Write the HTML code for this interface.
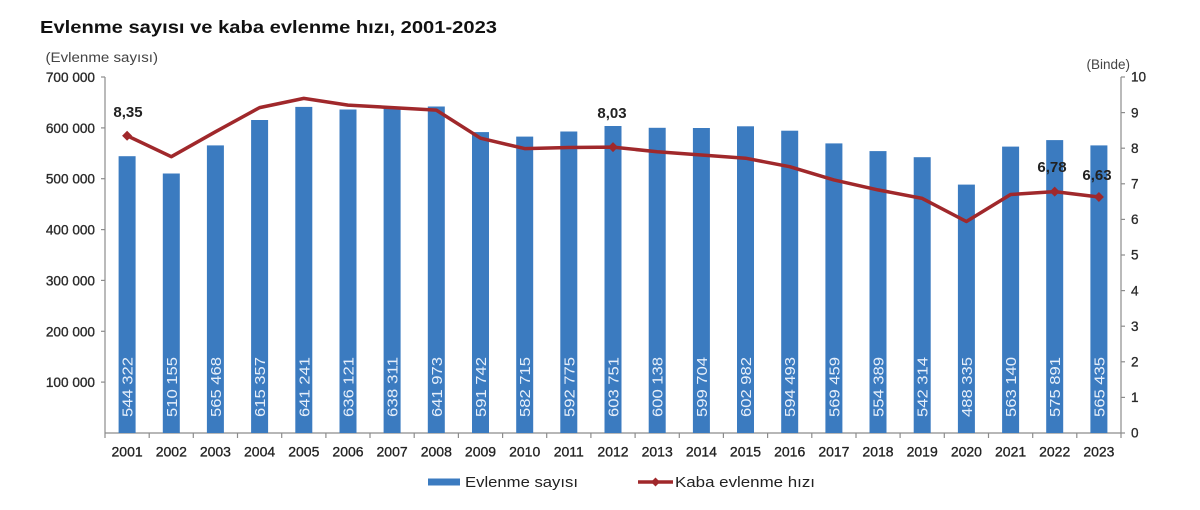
<!DOCTYPE html>
<html><head><meta charset="utf-8"><style>
html,body{margin:0;padding:0;background:#fff;}
svg{display:block;font-family:"Liberation Sans",Arial,sans-serif;}
</style></head><body>
<svg width="1200" height="510" viewBox="0 0 1200 510" xmlns="http://www.w3.org/2000/svg">
<rect width="1200" height="510" fill="#fff"/>
<text x="40" y="33" font-size="17.5" font-weight="bold" fill="#111" textLength="457" lengthAdjust="spacingAndGlyphs">Evlenme sayısı ve kaba evlenme hızı, 2001-2023</text>
<text x="45.5" y="62" font-size="13.5" fill="#444" textLength="112.5" lengthAdjust="spacingAndGlyphs">(Evlenme sayısı)</text>
<text x="1130" y="69" font-size="13.5" fill="#444" text-anchor="end">(Binde)</text>

<g stroke="#8c8c8c" stroke-width="1.2" fill="none">
<line x1="105" y1="77" x2="105" y2="433"/>
<line x1="101" y1="77" x2="105" y2="77"/>
<line x1="101" y1="127.9" x2="105" y2="127.9"/>
<line x1="101" y1="178.7" x2="105" y2="178.7"/>
<line x1="101" y1="229.6" x2="105" y2="229.6"/>
<line x1="101" y1="280.4" x2="105" y2="280.4"/>
<line x1="101" y1="331.3" x2="105" y2="331.3"/>
<line x1="101" y1="382.1" x2="105" y2="382.1"/>
<line x1="1121" y1="77" x2="1121" y2="433"/>
<line x1="1121" y1="77" x2="1125" y2="77"/>
<line x1="1121" y1="112.6" x2="1125" y2="112.6"/>
<line x1="1121" y1="148.2" x2="1125" y2="148.2"/>
<line x1="1121" y1="183.8" x2="1125" y2="183.8"/>
<line x1="1121" y1="219.4" x2="1125" y2="219.4"/>
<line x1="1121" y1="255" x2="1125" y2="255"/>
<line x1="1121" y1="290.6" x2="1125" y2="290.6"/>
<line x1="1121" y1="326.2" x2="1125" y2="326.2"/>
<line x1="1121" y1="361.8" x2="1125" y2="361.8"/>
<line x1="1121" y1="397.4" x2="1125" y2="397.4"/>
<line x1="1121" y1="433" x2="1125" y2="433"/>
<line x1="105" y1="433" x2="1121" y2="433"/>
</g>
<g stroke="#8c8c8c" stroke-width="1.2">
<line x1="105" y1="433" x2="105" y2="438"/><line x1="149.2" y1="433" x2="149.2" y2="438"/><line x1="193.3" y1="433" x2="193.3" y2="438"/><line x1="237.5" y1="433" x2="237.5" y2="438"/><line x1="281.7" y1="433" x2="281.7" y2="438"/><line x1="325.9" y1="433" x2="325.9" y2="438"/><line x1="370" y1="433" x2="370" y2="438"/><line x1="414.2" y1="433" x2="414.2" y2="438"/><line x1="458.4" y1="433" x2="458.4" y2="438"/><line x1="502.6" y1="433" x2="502.6" y2="438"/><line x1="546.7" y1="433" x2="546.7" y2="438"/><line x1="590.9" y1="433" x2="590.9" y2="438"/><line x1="635.1" y1="433" x2="635.1" y2="438"/><line x1="679.3" y1="433" x2="679.3" y2="438"/><line x1="723.4" y1="433" x2="723.4" y2="438"/><line x1="767.6" y1="433" x2="767.6" y2="438"/><line x1="811.8" y1="433" x2="811.8" y2="438"/><line x1="856" y1="433" x2="856" y2="438"/><line x1="900.1" y1="433" x2="900.1" y2="438"/><line x1="944.3" y1="433" x2="944.3" y2="438"/><line x1="988.5" y1="433" x2="988.5" y2="438"/><line x1="1032.7" y1="433" x2="1032.7" y2="438"/><line x1="1076.8" y1="433" x2="1076.8" y2="438"/><line x1="1121" y1="433" x2="1121" y2="438"/>
</g>

<g font-size="13.6" fill="#2a2a2a" stroke="#2a2a2a" stroke-width="0.35" text-anchor="end">
<text x="95" y="82">700 000</text>
<text x="95" y="132.9">600 000</text>
<text x="95" y="183.7">500 000</text>
<text x="95" y="234.6">400 000</text>
<text x="95" y="285.4">300 000</text>
<text x="95" y="336.3">200 000</text>
<text x="95" y="387.1">100 000</text>
</g>
<g font-size="13.6" fill="#2a2a2a" stroke="#2a2a2a" stroke-width="0.3">
<text x="1131" y="81.7">10</text>
<text x="1131" y="117.3">9</text>
<text x="1131" y="152.9">8</text>
<text x="1131" y="188.5">7</text>
<text x="1131" y="224.1">6</text>
<text x="1131" y="259.7">5</text>
<text x="1131" y="295.3">4</text>
<text x="1131" y="330.9">3</text>
<text x="1131" y="366.5">2</text>
<text x="1131" y="402.1">1</text>
<text x="1131" y="437.7">0</text>
</g>

<g fill="#3b7bc0">
<rect x="118.6" y="156.2" width="17" height="276.8"/>
<rect x="162.8" y="173.5" width="17" height="259.5"/>
<rect x="206.9" y="145.4" width="17" height="287.6"/>
<rect x="251.1" y="120.0" width="17" height="313"/>
<rect x="295.3" y="106.9" width="17" height="326.1"/>
<rect x="339.5" y="109.5" width="17" height="323.5"/>
<rect x="383.6" y="108.4" width="17" height="324.6"/>
<rect x="427.8" y="106.5" width="17" height="326.5"/>
<rect x="472.0" y="132.1" width="17" height="300.9"/>
<rect x="516.2" y="136.6" width="17" height="296.4"/>
<rect x="560.3" y="131.5" width="17" height="301.5"/>
<rect x="604.5" y="126.0" width="17" height="307"/>
<rect x="648.7" y="127.8" width="17" height="305.2"/>
<rect x="692.9" y="128.0" width="17" height="305"/>
<rect x="737.0" y="126.3" width="17" height="306.7"/>
<rect x="781.2" y="130.7" width="17" height="302.3"/>
<rect x="825.4" y="143.4" width="17" height="289.6"/>
<rect x="869.5" y="151.1" width="17" height="281.9"/>
<rect x="913.7" y="157.2" width="17" height="275.8"/>
<rect x="957.9" y="184.6" width="17" height="248.4"/>
<rect x="1002.1" y="146.6" width="17" height="286.4"/>
<rect x="1046.2" y="140.1" width="17" height="292.9"/>
<rect x="1090.4" y="145.4" width="17" height="287.6"/>
</g>

<g font-size="15" fill="#e6effa">
<text transform="translate(132.6,417) rotate(-90)" textLength="60" lengthAdjust="spacingAndGlyphs">544 322</text>
<text transform="translate(176.8,417) rotate(-90)" textLength="60" lengthAdjust="spacingAndGlyphs">510 155</text>
<text transform="translate(220.9,417) rotate(-90)" textLength="60" lengthAdjust="spacingAndGlyphs">565 468</text>
<text transform="translate(265.1,417) rotate(-90)" textLength="60" lengthAdjust="spacingAndGlyphs">615 357</text>
<text transform="translate(309.3,417) rotate(-90)" textLength="60" lengthAdjust="spacingAndGlyphs">641 241</text>
<text transform="translate(353.5,417) rotate(-90)" textLength="60" lengthAdjust="spacingAndGlyphs">636 121</text>
<text transform="translate(397.6,417) rotate(-90)" textLength="60" lengthAdjust="spacingAndGlyphs">638 311</text>
<text transform="translate(441.8,417) rotate(-90)" textLength="60" lengthAdjust="spacingAndGlyphs">641 973</text>
<text transform="translate(486.0,417) rotate(-90)" textLength="60" lengthAdjust="spacingAndGlyphs">591 742</text>
<text transform="translate(530.2,417) rotate(-90)" textLength="60" lengthAdjust="spacingAndGlyphs">582 715</text>
<text transform="translate(574.3,417) rotate(-90)" textLength="60" lengthAdjust="spacingAndGlyphs">592 775</text>
<text transform="translate(618.5,417) rotate(-90)" textLength="60" lengthAdjust="spacingAndGlyphs">603 751</text>
<text transform="translate(662.7,417) rotate(-90)" textLength="60" lengthAdjust="spacingAndGlyphs">600 138</text>
<text transform="translate(706.9,417) rotate(-90)" textLength="60" lengthAdjust="spacingAndGlyphs">599 704</text>
<text transform="translate(751.0,417) rotate(-90)" textLength="60" lengthAdjust="spacingAndGlyphs">602 982</text>
<text transform="translate(795.2,417) rotate(-90)" textLength="60" lengthAdjust="spacingAndGlyphs">594 493</text>
<text transform="translate(839.4,417) rotate(-90)" textLength="60" lengthAdjust="spacingAndGlyphs">569 459</text>
<text transform="translate(883.5,417) rotate(-90)" textLength="60" lengthAdjust="spacingAndGlyphs">554 389</text>
<text transform="translate(927.7,417) rotate(-90)" textLength="60" lengthAdjust="spacingAndGlyphs">542 314</text>
<text transform="translate(971.9,417) rotate(-90)" textLength="60" lengthAdjust="spacingAndGlyphs">488 335</text>
<text transform="translate(1016.1,417) rotate(-90)" textLength="60" lengthAdjust="spacingAndGlyphs">563 140</text>
<text transform="translate(1060.2,417) rotate(-90)" textLength="60" lengthAdjust="spacingAndGlyphs">575 891</text>
<text transform="translate(1104.4,417) rotate(-90)" textLength="60" lengthAdjust="spacingAndGlyphs">565 435</text>
</g>

<polyline fill="none" stroke="#a0282b" stroke-width="3.5" stroke-linejoin="round" stroke-linecap="round"
points="127.1,135.7 171.3,156.7 215.4,131.8 259.6,107.6 303.8,98.4 348.0,105.1 392.1,107.6 436.3,110.1 480.5,138.2 524.7,148.6 568.8,147.5 613.0,147.1 657.2,151.8 701.4,155.0 745.5,158.2 789.7,166.7 833.9,179.9 878.0,189.9 922.2,198.4 966.4,221.5 1010.6,194.5 1054.7,191.6 1098.9,197.0"/>
<g fill="#a0282b">
<polygon points="127.1,130.7 132.1,135.7 127.1,140.7 122.1,135.7"/>
<polygon points="613.0,142.1 618.0,147.1 613.0,152.1 608.0,147.1"/>
<polygon points="1054.7,186.6 1059.7,191.6 1054.7,196.6 1049.7,191.6"/>
<polygon points="1098.9,192.0 1103.9,197.0 1098.9,202.0 1093.9,197.0"/>
</g>
<g font-size="15" font-weight="bold" fill="#222" text-anchor="middle">
<text x="128" y="117">8,35</text>
<text x="612" y="118">8,03</text>
<text x="1052" y="172">6,78</text>
<text x="1097" y="180">6,63</text>
</g>

<g font-size="14" fill="#222" stroke="#222" stroke-width="0.3" text-anchor="middle">
<text x="127.1" y="456.5">2001</text><text x="171.3" y="456.5">2002</text><text x="215.4" y="456.5">2003</text><text x="259.6" y="456.5">2004</text><text x="303.8" y="456.5">2005</text><text x="348.0" y="456.5">2006</text><text x="392.1" y="456.5">2007</text><text x="436.3" y="456.5">2008</text><text x="480.5" y="456.5">2009</text><text x="524.7" y="456.5">2010</text><text x="568.8" y="456.5">2011</text><text x="613.0" y="456.5">2012</text><text x="657.2" y="456.5">2013</text><text x="701.4" y="456.5">2014</text><text x="745.5" y="456.5">2015</text><text x="789.7" y="456.5">2016</text><text x="833.9" y="456.5">2017</text><text x="878.0" y="456.5">2018</text><text x="922.2" y="456.5">2019</text><text x="966.4" y="456.5">2020</text><text x="1010.6" y="456.5">2021</text><text x="1054.7" y="456.5">2022</text><text x="1098.9" y="456.5">2023</text>
</g>

<rect x="428" y="478.5" width="32" height="7" fill="#3b7bc0"/>
<text x="465" y="487" font-size="14.5" fill="#222" textLength="113" lengthAdjust="spacingAndGlyphs">Evlenme sayısı</text>
<line x1="638" y1="482" x2="673" y2="482" stroke="#a0282b" stroke-width="3.5"/>
<polygon points="655.5,477.5 660,482 655.5,486.5 651,482" fill="#a0282b"/>
<text x="675" y="487" font-size="14.5" fill="#222" textLength="140" lengthAdjust="spacingAndGlyphs">Kaba evlenme hızı</text>
</svg>
</body></html>
